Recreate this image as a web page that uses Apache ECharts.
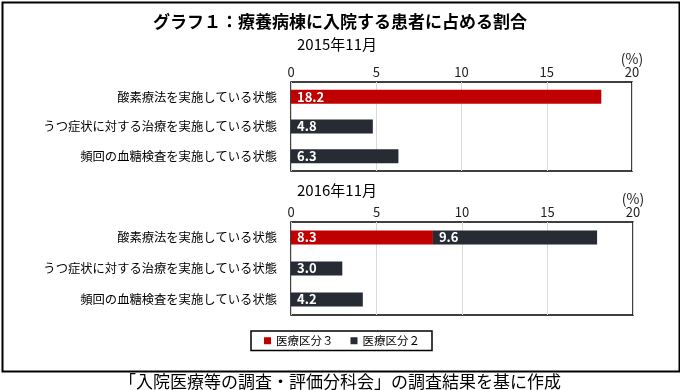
<!DOCTYPE html>
<html>
<head>
<meta charset="utf-8">
<script src="https://cdn.jsdelivr.net/npm/echarts@6/dist/echarts.min.js"></script>
<style>
html,body{margin:0;padding:0;background:#fff;}
#chart{width:680px;height:390px;}
</style>
</head>
<body>
<div id="chart"></div>
<script>
const categories = ['酸素療法を実施している状態', 'うつ症状に対する治療を実施している状態', '頻回の血糖検査を実施している状態'];
const seriesNames = ['医療区分３', '医療区分２'];
const y2015_ku3 = [18.2, null, null];
const y2015_ku2 = [null, 4.8, 6.3];
const y2016_ku3 = [8.3, null, null];
const y2016_ku2 = [9.6, 3.0, 4.2];
const axisMin = 0, axisMax = 20, axisStep = 5;
const panelTitles = ['2015年11月', '2016年11月'];
const mainTitle = 'グラフ１：療養病棟に入院する患者に占める割合';
const footer = '「入院医療等の調査・評価分科会」の調査結果を基に作成';
const unitLabel = '(%)';

const FONT = '"Noto Sans CJK JP", "Noto Sans", sans-serif';
const RED = '#C00000';
const DARK = '#262B34';

function xAxisDef(gi) {
  return {
    gridIndex: gi, type: 'value', position: 'top',
    min: axisMin, max: axisMax, interval: axisStep,
    axisLine: {show: false}, axisTick: {show: false},
    axisLabel: {color: '#222', fontSize: 13, margin: 3, fontFamily: FONT},
    splitLine: {show: true, lineStyle: {color: '#D9D9D9', width: 1}},
    name: unitLabel, nameLocation: 'end', nameGap: 0, nameMoveOverlap: false,
    nameTextStyle: {color: '#222', fontSize: 14, fontFamily: FONT, align: 'center', verticalAlign: 'bottom', padding: [0, 0, 16, 0]}
  };
}
function yAxisDef(gi) {
  return {
    gridIndex: gi, type: 'category', data: categories, inverse: true,
    axisLine: {show: false}, axisTick: {show: false},
    axisLabel: {color: '#000', fontSize: 12.3, margin: 14, fontFamily: FONT}
  };
}
const labelCfg = {
  show: true, position: 'insideLeft', distance: 6,
  color: '#fff', fontWeight: 'bold', fontSize: 13, fontFamily: FONT,
  formatter: p => (p.value == null ? '' : Number(p.value).toFixed(1))
};
function barSeries(name, data, gi, color) {
  return {
    name: name, type: 'bar', xAxisIndex: gi, yAxisIndex: gi, stack: 's' + gi,
    data: data.map(v => v == null ? '-' : v),
    barWidth: 14, itemStyle: {color: color}, label: labelCfg, silent: true
  };
}

const chart = echarts.init(document.getElementById('chart'), null, {renderer: 'canvas'});
chart.setOption({
  animation: false,
  backgroundColor: '#fff',
  textStyle: {fontFamily: FONT},
  title: [
    {text: mainTitle, left: 'center', top: 8, textStyle: {fontSize: 17, fontWeight: 'bold', color: '#000', fontFamily: FONT}},
    {text: panelTitles[0], left: 292, top: 32, textStyle: {fontSize: 15, fontWeight: 'normal', color: '#000', fontFamily: FONT}},
    {text: panelTitles[1], left: 292, top: 178, textStyle: {fontSize: 15, fontWeight: 'normal', color: '#000', fontFamily: FONT}},
    {text: footer, left: 'center', top: 368, textStyle: {fontSize: 17, fontWeight: 'normal', color: '#000', fontFamily: FONT}}
  ],
  legend: {
    data: seriesNames, left: 251, top: 331, orient: 'horizontal',
    icon: 'rect', itemWidth: 7, itemHeight: 7, itemGap: 17,
    borderColor: '#000', borderWidth: 1.5, padding: [4, 12, 4, 13],
    textStyle: {fontSize: 11.5, color: '#000', fontFamily: FONT}
  },
  grid: [
    {left: 291, right: 48, top: 82, height: 89, show: true, borderColor: '#000', borderWidth: 1.5, backgroundColor: 'transparent', containLabel: false},
    {left: 291, right: 47, top: 222, height: 93, show: true, borderColor: '#000', borderWidth: 1.5, backgroundColor: 'transparent', containLabel: false}
  ],
  xAxis: [xAxisDef(0), xAxisDef(1)],
  yAxis: [yAxisDef(0), yAxisDef(1)],
  series: [
    barSeries(seriesNames[0], y2015_ku3, 0, RED),
    barSeries(seriesNames[1], y2015_ku2, 0, DARK),
    barSeries(seriesNames[0], y2016_ku3, 1, RED),
    barSeries(seriesNames[1], y2016_ku2, 1, DARK)
  ],
  graphic: [
    {type: 'rect', left: 0, top: 0, z: 100, silent: true,
     shape: {x: 1, y: 1, width: 677, height: 369},
     style: {fill: 'none', stroke: '#000', lineWidth: 2}}
  ]
});
</script>
</body>
</html>
